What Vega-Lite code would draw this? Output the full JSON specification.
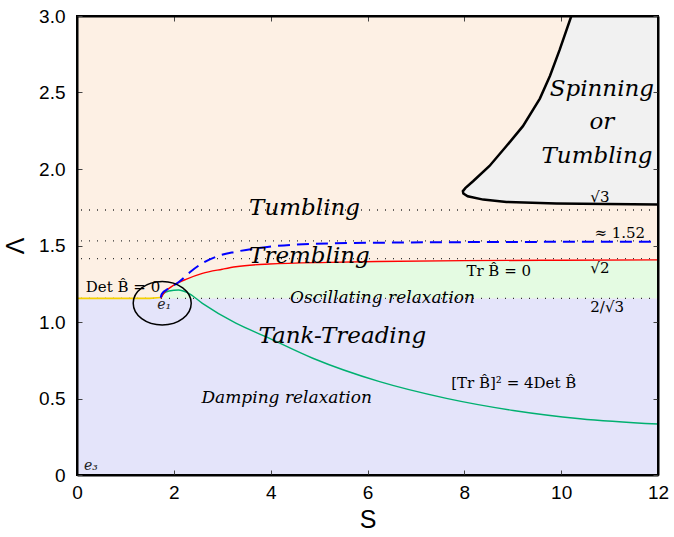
{
  "$schema": "https://vega.github.io/schema/vega-lite/v6.json",
  "width": 581,
  "height": 459,
  "autosize": {"type": "none"},
  "padding": {"left": 77, "top": 16, "right": 16, "bottom": 62},
  "background": "white",
  "view": {"fill": "#fdf0e4", "stroke": null},
  "config": {
    "axis": {"grid": false, "labelFlush": false, "domainColor": "black", "domainWidth": 2, "tickColor": "#444444", "tickSize": -5, "tickWidth": 1, "labelFont": "Liberation Sans", "labelFontSize": 19, "labelColor": "black", "titleFont": "Liberation Sans", "titleFontSize": 25, "titleFontWeight": "normal", "titleColor": "black", "zindex": 1}
  },
  "resolve": {"axis": {"x": "independent", "y": "independent"}},
  "datasets": {
    "box": [{"x0": 0, "x1": 12, "y0": 0, "y1": 1.1547}],
    "frame": [{"x0": 0, "x1": 12, "y0": 0, "y1": 3}],
    "red": [
      {"S": 1.73, "L": 1.1547}, {"S": 1.8, "L": 1.19}, {"S": 1.9, "L": 1.22}, {"S": 2.1, "L": 1.258}, {"S": 2.25, "L": 1.279}, {"S": 2.59, "L": 1.318}, {"S": 3.0, "L": 1.345}, {"S": 3.28, "L": 1.361}, {"S": 3.97, "L": 1.379}, {"S": 5.21, "L": 1.39}, {"S": 6.2, "L": 1.395}, {"S": 8.0, "L": 1.401}, {"S": 10.0, "L": 1.404}, {"S": 12.0, "L": 1.406}
    ],
    "blue": [
      {"S": 1.73, "L": 1.16}, {"S": 1.75, "L": 1.183}, {"S": 1.9, "L": 1.22}, {"S": 2.11, "L": 1.263}, {"S": 2.35, "L": 1.33}, {"S": 2.59, "L": 1.384}, {"S": 2.9, "L": 1.43}, {"S": 3.28, "L": 1.459}, {"S": 3.97, "L": 1.492}, {"S": 5.21, "L": 1.514}, {"S": 6.2, "L": 1.518}, {"S": 8.0, "L": 1.522}, {"S": 10.0, "L": 1.524}, {"S": 12.0, "L": 1.525}
    ],
    "teal": [
      {"S": 1.73, "L": 1.1547}, {"S": 1.78, "L": 1.185}, {"S": 1.9, "L": 1.203}, {"S": 2.1, "L": 1.209}, {"S": 2.28, "L": 1.192}, {"S": 2.59, "L": 1.122}, {"S": 3.28, "L": 0.992}, {"S": 3.9, "L": 0.904}, {"S": 4.87, "L": 0.763}, {"S": 6.25, "L": 0.61}, {"S": 7.63, "L": 0.501}, {"S": 9.01, "L": 0.422}, {"S": 10.39, "L": 0.368}, {"S": 12.0, "L": 0.333}
    ],
    "yellow": [{"S": 0, "L": 1.1547}, {"S": 1.5, "L": 1.1547}, {"S": 1.73, "L": 1.16}],
    "spin": [
      {"i": 0, "S": 10.21, "L": 3.0}, {"i": 1, "S": 9.97, "L": 2.78}, {"i": 2, "S": 9.77, "L": 2.61}, {"i": 3, "S": 9.56, "L": 2.46}, {"i": 4, "S": 9.21, "L": 2.28}, {"i": 5, "S": 8.87, "L": 2.15}, {"i": 6, "S": 8.52, "L": 2.02}, {"i": 7, "S": 8.18, "L": 1.92}, {"i": 8, "S": 8.02, "L": 1.875}, {"i": 9, "S": 7.97, "L": 1.855}, {"i": 10, "S": 7.98, "L": 1.84}, {"i": 11, "S": 8.07, "L": 1.822}, {"i": 12, "S": 8.39, "L": 1.8}, {"i": 13, "S": 8.87, "L": 1.785}, {"i": 14, "S": 9.9, "L": 1.775}, {"i": 15, "S": 12.0, "L": 1.768}, {"i": 16, "S": 12.3, "L": 1.768}, {"i": 17, "S": 12.3, "L": 3.1}, {"i": 18, "S": 10.1, "L": 3.1}
    ],
    "dots": [{"L": 1.732}, {"L": 1.53}, {"L": 1.414}, {"L": 1.1547}],
    "ell": [{"S": 1.76, "L": 1.122}],
    "labels": [
      {"S": 4.7, "L": 1.745, "text": "Tumbling", "kind": "big"},
      {"S": 4.8, "L": 1.431, "text": "Trembling", "kind": "big"},
      {"S": 5.48, "L": 0.908, "text": "Tank-Treading", "kind": "big"},
      {"S": 10.84, "L": 2.523, "text": "Spinning", "kind": "big"},
      {"S": 10.84, "L": 2.307, "text": "or", "kind": "big"},
      {"S": 10.74, "L": 2.085, "text": "Tumbling", "kind": "big"},
      {"S": 6.31, "L": 1.157, "text": "Oscillating relaxation", "kind": "mid"},
      {"S": 4.33, "L": 0.503, "text": "Damping relaxation", "kind": "mid"},
      {"S": 9.02, "L": 0.601, "text": "[Tr B̂]² = 4Det B̂", "kind": "math"},
      {"S": 8.71, "L": 1.333, "text": "Tr B̂ = 0", "kind": "math"},
      {"S": 0.95, "L": 1.229, "text": "Det B̂ = 0", "kind": "math"},
      {"S": 10.8, "L": 1.817, "text": "√3", "kind": "math"},
      {"S": 11.21, "L": 1.582, "text": "≈ 1.52", "kind": "math"},
      {"S": 10.8, "L": 1.353, "text": "√2", "kind": "math"},
      {"S": 10.95, "L": 1.098, "text": "2/√3", "kind": "math"},
      {"S": 1.8, "L": 1.108, "text": "e₁", "kind": "small"},
      {"S": 0.29, "L": 0.062, "text": "e₃", "kind": "small"}
    ]
  },
  "layer": [
    {
      "data": {"name": "box"},
      "mark": {"type": "rect", "fill": "#e4e4fa", "stroke": null},
      "encoding": {
        "x": {"field": "x0", "type": "quantitative", "scale": {"domain": [0, 12], "nice": false, "zero": false}, "axis": {"orient": "bottom", "title": "S", "values": [0, 2, 4, 6, 8, 10, 12], "labelPadding": 13, "titlePadding": 5, "zindex": 2}},
        "x2": {"field": "x1"},
        "y": {"field": "y0", "type": "quantitative", "scale": {"domain": [0, 3], "nice": false, "zero": false}, "axis": {"orient": "left", "title": "Λ", "values": [0, 0.5, 1, 1.5, 2, 2.5, 3], "labelExpr": "datum.value === 0 ? '0' : format(datum.value, '.1f')", "labelPadding": 17, "titlePadding": 10, "zindex": 2}},
        "y2": {"field": "y1"}
      }
    },
    {
      "data": {"name": "box"},
      "mark": {"type": "rect", "opacity": 0},
      "encoding": {
        "x": {"field": "x0", "type": "quantitative", "axis": {"orient": "top", "title": null, "labels": false, "values": [0, 2, 4, 6, 8, 10, 12], "zindex": 2}},
        "x2": {"field": "x1"},
        "y": {"field": "y0", "type": "quantitative", "axis": {"orient": "right", "title": null, "labels": false, "values": [0, 0.5, 1, 1.5, 2, 2.5, 3], "zindex": 2}},
        "y2": {"field": "y1"}
      }
    },
    {
      "data": {"name": "red"},
      "mark": {"type": "area", "fill": "#e4fbe2", "interpolate": "monotone"},
      "encoding": {
        "x": {"field": "S", "type": "quantitative", "axis": null},
        "y": {"field": "L", "type": "quantitative", "axis": null},
        "y2": {"datum": 1.1547}
      }
    },
    {
      "data": {"name": "spin"},
      "mark": {"type": "line", "fill": "#f1f1f1", "stroke": "black", "strokeWidth": 2.5, "clip": true},
      "encoding": {
        "x": {"field": "S", "type": "quantitative", "axis": null},
        "y": {"field": "L", "type": "quantitative", "axis": null},
        "order": {"field": "i", "type": "quantitative"}
      }
    },
    {
      "data": {"name": "dots"},
      "mark": {"type": "rule", "color": "#333333", "strokeDash": [1, 7], "strokeWidth": 1.3},
      "encoding": {"y": {"field": "L", "type": "quantitative", "axis": null}}
    },
    {
      "data": {"name": "yellow"},
      "mark": {"type": "line", "color": "#f5d000", "strokeWidth": 1.6},
      "encoding": {"x": {"field": "S", "type": "quantitative", "axis": null}, "y": {"field": "L", "type": "quantitative", "axis": null}}
    },
    {
      "data": {"name": "teal"},
      "mark": {"type": "line", "color": "#00b070", "strokeWidth": 1.4, "interpolate": "monotone"},
      "encoding": {"x": {"field": "S", "type": "quantitative", "axis": null}, "y": {"field": "L", "type": "quantitative", "axis": null}}
    },
    {
      "data": {"name": "red"},
      "mark": {"type": "line", "color": "#ff0000", "strokeWidth": 1.4, "interpolate": "monotone"},
      "encoding": {"x": {"field": "S", "type": "quantitative", "axis": null}, "y": {"field": "L", "type": "quantitative", "axis": null}}
    },
    {
      "data": {"name": "blue"},
      "mark": {"type": "line", "color": "#0000ff", "strokeWidth": 2, "strokeDash": [12, 7], "interpolate": "monotone"},
      "encoding": {"x": {"field": "S", "type": "quantitative", "axis": null}, "y": {"field": "L", "type": "quantitative", "axis": null}}
    },
    {
      "data": {"name": "ell"},
      "mark": {"type": "point", "shape": "M -1 0 A 1 0.75 0 1 0 1 0 A 1 0.75 0 1 0 -1 0 Z", "size": 3364, "filled": false, "stroke": "black", "strokeWidth": 1.5, "opacity": 1},
      "encoding": {"x": {"field": "S", "type": "quantitative", "axis": null}, "y": {"field": "L", "type": "quantitative", "axis": null}}
    },
    {
      "data": {"name": "labels"},
      "transform": [{"filter": "datum.kind === 'big'"}],
      "mark": {"type": "text", "font": "DejaVu Serif", "fontStyle": "italic", "fontSize": 23, "color": "black", "align": "center", "baseline": "middle"},
      "encoding": {"x": {"field": "S", "type": "quantitative", "axis": null}, "y": {"field": "L", "type": "quantitative", "axis": null}, "text": {"field": "text"}}
    },
    {
      "data": {"name": "labels"},
      "transform": [{"filter": "datum.kind === 'mid'"}],
      "mark": {"type": "text", "font": "DejaVu Serif", "fontStyle": "italic", "fontSize": 17, "color": "black", "align": "center", "baseline": "middle"},
      "encoding": {"x": {"field": "S", "type": "quantitative", "axis": null}, "y": {"field": "L", "type": "quantitative", "axis": null}, "text": {"field": "text"}}
    },
    {
      "data": {"name": "labels"},
      "transform": [{"filter": "datum.kind === 'math'"}],
      "mark": {"type": "text", "font": "DejaVu Serif", "fontSize": 15, "color": "black", "align": "center", "baseline": "middle"},
      "encoding": {"x": {"field": "S", "type": "quantitative", "axis": null}, "y": {"field": "L", "type": "quantitative", "axis": null}, "text": {"field": "text"}}
    },
    {
      "data": {"name": "labels"},
      "transform": [{"filter": "datum.kind === 'small'"}],
      "mark": {"type": "text", "font": "DejaVu Serif", "fontStyle": "italic", "fontSize": 14, "color": "#222222", "align": "center", "baseline": "middle"},
      "encoding": {"x": {"field": "S", "type": "quantitative", "axis": null}, "y": {"field": "L", "type": "quantitative", "axis": null}, "text": {"field": "text"}}
    },
    {
      "data": {"name": "frame"},
      "mark": {"type": "rect", "fill": null, "filled": false, "stroke": "black", "strokeWidth": 2},
      "encoding": {
        "x": {"field": "x0", "type": "quantitative", "axis": null},
        "x2": {"field": "x1"},
        "y": {"field": "y0", "type": "quantitative", "axis": null},
        "y2": {"field": "y1"}
      }
    }
  ]
}
